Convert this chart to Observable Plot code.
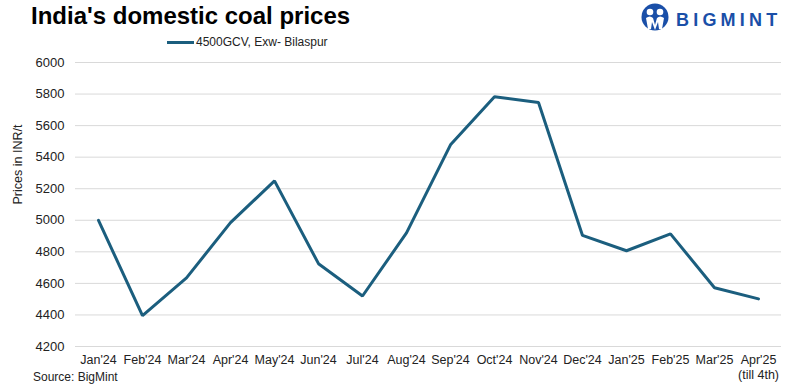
<!DOCTYPE html>
<html><head><meta charset="utf-8">
<script src="https://cdn.jsdelivr.net/npm/d3@7"></script>
<script src="https://cdn.jsdelivr.net/npm/@observablehq/plot@0.6"></script>
<style>
body{margin:0;background:#fff;font-family:"Liberation Sans",Arial,sans-serif;}
#wrap{position:relative;width:789px;height:392px;overflow:hidden;}
#title{position:absolute;left:31px;top:2px;font-size:24px;font-weight:bold;color:#000;letter-spacing:0px;white-space:nowrap;}
#legend{position:absolute;left:167px;top:35px;font-size:12px;color:#222;white-space:nowrap;display:flex;align-items:center;}
#legend span.sw{display:inline-block;width:27px;height:3px;background:#1b5e7e;margin-right:2px;}
#source{position:absolute;left:33px;top:370px;font-size:12px;color:#222;}
#logo{position:absolute;left:640px;top:3px;}
#chart{position:absolute;left:0;top:0;}
</style></head>
<body><div id="wrap">
<div id="chart"></div>
<div id="title">India's domestic coal prices</div>
<div id="legend"><span class="sw"></span><span id="legtext"></span></div>
<div id="source">Source: BigMint</div>
<svg id="logo" width="149" height="30">
  <circle cx="15" cy="14" r="13.5" fill="#1a4fa8"/>
  <circle cx="10" cy="9" r="3.3" fill="#fff"/>
  <circle cx="20" cy="9" r="3.3" fill="#fff"/>
  <path d="M6 15 Q10 12 13 15 L15 22 L17 15 Q20 12 24 15 L22 26 L19 26 L18 19 L15 27 L12 19 L11 26 L8 26 Z" fill="#fff"/>
  <text x="36" y="23" font-family="Liberation Sans, Arial" font-weight="bold" font-size="18" letter-spacing="4.2" fill="#1a4fa8">BIGMINT</text>
</svg>
</div>
<script>
const months = ["Jan'24","Feb'24","Mar'24","Apr'24","May'24","Jun'24","Jul'24","Aug'24","Sep'24","Oct'24","Nov'24","Dec'24","Jan'25","Feb'25","Mar'25","Apr'25"];
const monthLabels = ["Jan'24","Feb'24","Mar'24","Apr'24","May'24","Jun'24","Jul'24","Aug'24","Sep'24","Oct'24","Nov'24","Dec'24","Jan'25","Feb'25","Mar'25","Apr'25\n(till 4th)"];
const prices = [5000,4395,4635,4985,5250,4725,4520,4920,5478,5783,5746,4904,4807,4914,4572,4502];
const yTicks = [4200,4400,4600,4800,5000,5200,5400,5600,5800,6000];
const seriesName = "4500GCV, Exw- Bilaspur";
const yLabel = "Prices in INR/t";
document.getElementById("legtext").textContent = seriesName;

const data = months.map((m,i)=>({month:m, price:prices[i]}));
const labelMap = new Map(months.map((m,i)=>[m, monthLabels[i]]));

const chart = Plot.plot({
  width: 789, height: 392,
  marginTop: 62, marginBottom: 46, marginLeft: 75, marginRight: 8,
  style: {fontFamily: "Liberation Sans, Arial, sans-serif", fontSize: "12.5px", color: "#222", background: "transparent"},
  x: {type: "point", domain: months, padding: 0.5, label: null},
  y: {domain: [4200, 6000], label: null},
  marks: [
    Plot.gridY(yTicks, {stroke: "#d9d9d9", strokeOpacity: 1, strokeWidth: 1}),
    Plot.axisY(yTicks, {tickSize: 0, tickPadding: 11, tickFormat: d => String(d), fontSize: 13, fill: "#222"}),
    Plot.axisX(months, {tickSize: 0, tickPadding: 7, tickFormat: d => labelMap.get(d), fontSize: 12.5, fill: "#222", lineHeight: 1.2}),
    Plot.line(data, {x: "month", y: "price", stroke: "#1b5e7e", strokeWidth: 3, strokeLinejoin: "miter"}),
    Plot.text([yLabel], {frameAnchor: "left", dx: -58, rotate: -90, fontSize: 12.5, fill: "#222"})
  ]
});
document.getElementById("chart").appendChild(chart);
</script>
</body></html>
